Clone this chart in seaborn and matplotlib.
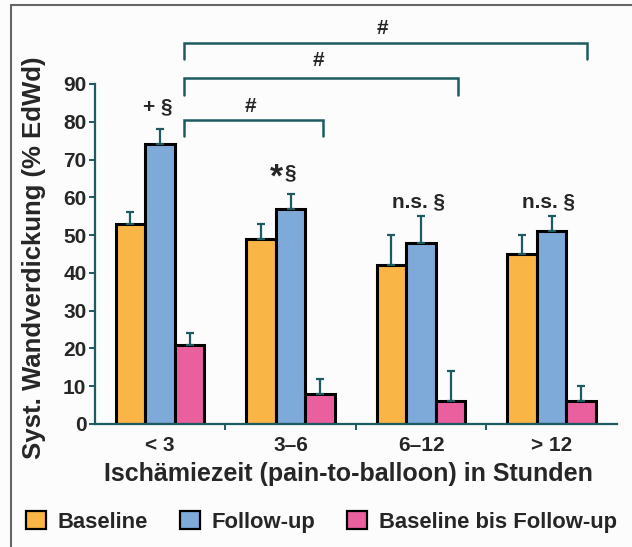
import matplotlib
matplotlib.use('Agg')
import matplotlib.pyplot as plt
import seaborn as sns
import pandas as pd
from matplotlib.patches import Patch
from matplotlib.lines import Line2D

# ── Data ─────────────────────────────────────────────────
groups = ['< 3', '3–6', '6–12', '> 12']
series = ['Baseline', 'Follow-up', 'Baseline bis Follow-up']
baseline = [53, 49, 42, 45]
baseline_err = [3, 4, 8, 5]
followup = [74, 57, 48, 51]
followup_err = [4, 4, 7, 4]
delta = [21, 8, 6, 6]
delta_err = [3, 4, 8, 4]
marks = ['+ §', '*§', 'n.s. §', 'n.s. §']

colors = ['#f9b546', '#7eaad9', '#ea609f']
teal = '#1d5b61'

df = pd.DataFrame({
    'Zeit': groups * 3,
    'Gruppe': [s for s in series for _ in groups],
    'Wert': baseline + followup + delta,
})

# ── Setup ────────────────────────────────────────────────
sns.set_theme(style='white')
plt.rcParams['font.family'] = ['Liberation Sans', 'DejaVu Sans']
plt.rcParams['font.weight'] = 'bold'

fig = plt.figure(figsize=(6.32, 5.47), dpi=100, facecolor='#fcfcfd')
ax = fig.add_axes([0.150, 0.2249, 0.826, 0.6216])
ax.set_facecolor('#fcfcfd')

sns.barplot(data=df, x='Zeit', y='Wert', hue='Gruppe', order=groups,
            hue_order=series, palette=colors, saturation=1, width=0.68,
            gap=0, edgecolor='black', linewidth=2.2, errorbar=None,
            legend=False, ax=ax)

# upward error bars from the bar tops
for cont, errs in zip(ax.containers, [baseline_err, followup_err, delta_err]):
    for patch, e in zip(cont, errs):
        xc = patch.get_x() + patch.get_width() / 2
        ax.errorbar(xc, patch.get_height(), yerr=[[0], [e]], fmt='none',
                    ecolor=teal, elinewidth=1.6, capsize=3, capthick=1.6,
                    zorder=1)

# ── Axes styling ─────────────────────────────────────────
ax.set_xlim(-0.5, 3.5)
ax.set_ylim(0, 90)
ax.set_yticks(range(0, 91, 10))
ax.spines['top'].set_visible(False)
ax.spines['right'].set_visible(False)
for s in ['left', 'bottom']:
    ax.spines[s].set_color(teal)
    ax.spines[s].set_linewidth(1.6)
ax.tick_params(axis='y', direction='out', length=4, width=1.4, color=teal,
               labelsize=15, pad=2, left=True)
ax.tick_params(axis='x', which='major', length=0, labelsize=15, pad=9)
ax.set_xticks([0.5, 1.5, 2.5], minor=True)
ax.tick_params(axis='x', which='minor', direction='out', length=4,
               width=1.4, color=teal, bottom=True)
for lab in ax.get_xticklabels() + ax.get_yticklabels():
    lab.set_fontweight('bold')

ax.set_xlabel('Ischämiezeit (pain-to-balloon) in Stunden',
              fontsize=18, fontweight='bold')
ax.xaxis.set_label_coords(0.485, -0.112)
ax.set_ylabel('Syst. Wandverdickung (% EdWd)',
              fontsize=18.5, fontweight='bold')
ax.yaxis.set_label_coords(-0.094, 0.49)

# ── Significance marks ───────────────────────────────────
mark_y = [84, 66.5, 58.7, 58.7]
for i, (m, yy) in enumerate(zip(marks, mark_y)):
    if m.startswith('*'):
        ax.text(i - 0.06, yy - 1.5, '*', ha='right', va='center',
                fontsize=24, fontweight='bold', clip_on=False)
        ax.text(i - 0.05, yy, '§', ha='left', va='center',
                fontsize=15, fontweight='bold', clip_on=False)
    else:
        ax.text(i - 0.02, yy, m, ha='center', va='center',
                fontsize=15, fontweight='bold', clip_on=False)

brackets = [(0.18, 1.25, 80.4, 76.2, 84.0),
            (0.18, 2.28, 91.5, 87.0, 96.3),
            (0.18, 3.27, 100.8, 96.6, 104.8)]
for x0, x1, ytop, ylow, ylab in brackets:
    ax.plot([x0, x0, x1, x1], [ylow, ytop, ytop, ylow], color=teal,
            lw=1.8, clip_on=False, solid_joinstyle='miter')
    ax.text((x0 + x1) / 2 - 0.02, ylab, '#', ha='center', va='center',
            fontsize=15, fontweight='bold', clip_on=False)

# ── Legend ───────────────────────────────────────────────
handles = [Patch(facecolor=c, edgecolor='black', linewidth=1.6) for c in colors]
fig.legend(handles, series, loc='lower left', bbox_to_anchor=(0.01, -0.01),
           ncol=3, frameon=False, handlelength=0.9, handleheight=0.9,
           handletextpad=0.55, columnspacing=1.45,
           prop={'weight': 'bold', 'size': 15.8})

# ── Frame lines (top / left) ─────────────────────────────
fig.add_artist(Line2D([0.017, 0.017], [0, 0.991], color='#666666', lw=1.5,
                      transform=fig.transFigure))
fig.add_artist(Line2D([0.017, 1.0], [0.991, 0.991], color='#666666', lw=1.5,
                      transform=fig.transFigure))

plt.savefig('out.png', dpi=100, facecolor=fig.get_facecolor())
plt.close()
